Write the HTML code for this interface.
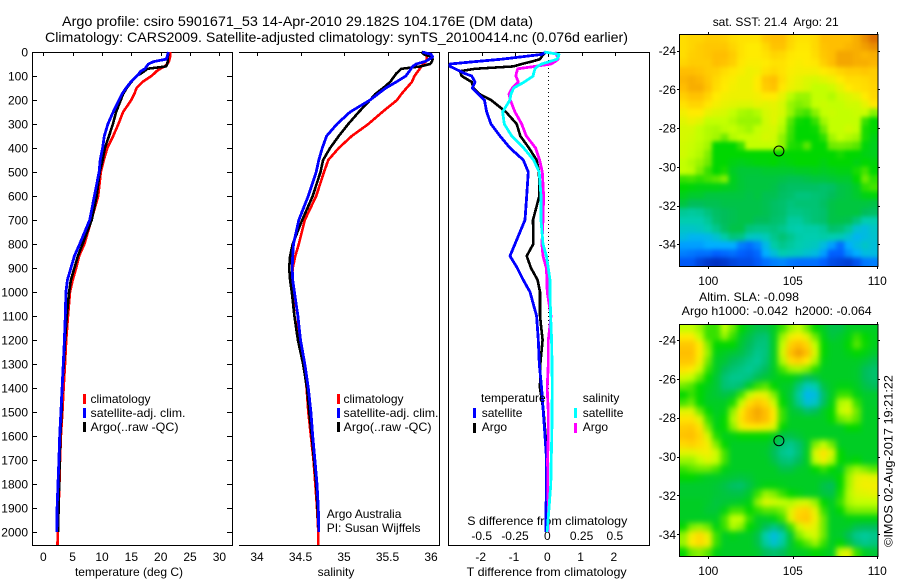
<!DOCTYPE html>
<html lang="en">
<head>
<meta charset="utf-8">
<title>Argo profile chart</title>
<style>
html,body{margin:0;padding:0;background:#fff;}
svg{display:block;}
text{font-family:"Liberation Sans",sans-serif;font-size:12px;fill:#000;}
.title{font-size:14px;}
</style>
</head>
<body>
<svg id="chart" xmlns="http://www.w3.org/2000/svg" width="900" height="580" viewBox="0 0 900 580">
  <defs>
    <filter id="soften-sst" filterUnits="userSpaceOnUse" x="640" y="0" width="260" height="580" color-interpolation-filters="sRGB"><feGaussianBlur stdDeviation="2"/></filter>
    <filter id="soften-sla" filterUnits="userSpaceOnUse" x="640" y="0" width="260" height="580" color-interpolation-filters="sRGB"><feGaussianBlur stdDeviation="3"/></filter>
    <clipPath id="clip-sst-map"><rect x="679" y="34" width="198.5" height="232"/></clipPath>
    <clipPath id="clip-sla-map"><rect x="679" y="324" width="198.5" height="232"/></clipPath>
  </defs>
  <rect x="0" y="0" width="900" height="580" fill="#fff"/>
  <text class="title" x="62" y="26" textLength="471" lengthAdjust="spacingAndGlyphs">Argo profile: csiro 5901671_53 14-Apr-2010 29.182S 104.176E (DM data)</text>
  <text class="title" x="45" y="42" textLength="583" lengthAdjust="spacingAndGlyphs">Climatology: CARS2009. Satellite-adjusted climatology: synTS_20100414.nc (0.076d earlier)</text>

  <text x="129" y="576" text-anchor="middle">temperature (deg C)</text>
  <text x="336" y="576" text-anchor="middle">salinity</text>
  <text x="466.7" y="576" textLength="160" lengthAdjust="spacingAndGlyphs">T difference from climatology</text>
  <text x="467.3" y="525" textLength="160" lengthAdjust="spacingAndGlyphs">S difference from climatology</text>

  <text x="326.7" y="518">Argo Australia</text>
  <text x="326.7" y="532">PI: Susan Wijffels</text>

  <text x="712.7" y="26" textLength="126" lengthAdjust="spacingAndGlyphs">sat. SST: 21.4&#160; Argo: 21</text>
  <text x="699" y="301" textLength="100" lengthAdjust="spacingAndGlyphs">Altim. SLA: -0.098</text>
  <text x="681.7" y="315" textLength="190" lengthAdjust="spacingAndGlyphs">Argo h1000: -0.042&#160; h2000: -0.064</text>
  <text transform="translate(892.5 547) rotate(-90)" textLength="172" lengthAdjust="spacingAndGlyphs">©IMOS 02-Aug-2017 19:21:22</text>

  <g id="layer-maps"></g>
  <g id="layer-profiles"></g>

  <g>
    <rect x="83" y="394" width="3" height="10" fill="#f00"/>
    <text x="90.5" y="403">climatology</text>
    <rect x="83" y="408" width="3" height="10" fill="#00f"/>
    <text x="90.5" y="417" textLength="95" lengthAdjust="spacingAndGlyphs">satellite-adj. clim.</text>
    <rect x="83" y="422" width="3" height="10" fill="#000"/>
    <text x="90.5" y="431" textLength="88" lengthAdjust="spacingAndGlyphs">Argo(..raw -QC)</text>
  </g>
  <g>
    <rect x="337" y="394" width="3" height="10" fill="#f00"/>
    <text x="343.5" y="403">climatology</text>
    <rect x="337" y="408" width="3" height="10" fill="#00f"/>
    <text x="343.5" y="417" textLength="95" lengthAdjust="spacingAndGlyphs">satellite-adj. clim.</text>
    <rect x="337" y="422" width="3" height="10" fill="#000"/>
    <text x="343.5" y="431" textLength="88" lengthAdjust="spacingAndGlyphs">Argo(..raw -QC)</text>
  </g>
  <g>
    <text x="481" y="402">temperature</text>
    <rect x="473" y="408" width="3" height="10" fill="#00f"/>
    <text x="481.7" y="417">satellite</text>
    <rect x="473" y="423" width="3" height="10" fill="#000"/>
    <text x="481.7" y="431">Argo</text>
    <text x="582.7" y="402">salinity</text>
    <rect x="574" y="408" width="3" height="10" fill="#0ff"/>
    <text x="582.7" y="417">satellite</text>
    <rect x="574" y="423" width="3" height="10" fill="#f0f"/>
    <text x="582.7" y="431">Argo</text>
  </g>
</svg>

<script>
/* ---------- profile data ---------- */
const depthLevels = [0,10,20,30,40,50,60,70,80,90,100,125,150,175,200,250,300,350,400,450,500,600,700,800,850,900,950,1000,1100,1200,1300,1400,1500,1600,1700,1800,1900,2000];
const climDepthLevels = [0,10,20,30,40,50,60,70,80,90,100,125,150,175,200,250,300,350,400,450,500,600,700,800,850,900,950,1000,1100,1200,1300,1400,1500,1600,1700,1800,1900,2000,2054];

const tempClimatology = [21.6,21.6,21.6,21.5,21.4,21.1,20.7,19.9,19.3,18.9,18.4,16.9,15.9,15.5,15.0,13.6,12.8,11.9,10.9,10.3,9.8,9.35,8.2,7.0,6.1,5.6,5.0,4.55,4.2,3.9,3.7,3.45,3.25,3.0,2.85,2.75,2.6,2.45,2.42];
const tempArgo = [21.3,21.3,21.2,21.2,21.2,21.1,20.9,17.7,17.2,16.6,15.9,15.0,14.2,13.6,13.2,12.4,11.85,11.2,10.5,10.1,9.6,9.1,8.25,6.7,5.9,5.3,4.7,4.4,4.0,3.7,3.5,3.2,3.1,2.9,2.8,2.7,2.6,2.5];
const tempSatellite = [21.3,21.2,21.1,20.9,18.8,17.9,17.6,17.3,16.6,16.3,15.9,14.9,14.1,13.4,12.9,11.9,11.0,10.4,10.1,9.7,9.5,8.7,7.9,6.2,5.3,4.7,4.1,3.85,3.75,3.6,3.4,3.2,3.0,2.8,2.65,2.5,2.35,2.3];

const salClimatology = [35.93,35.94,35.95,35.95,35.94,35.91,35.89,35.87,35.85,35.83,35.81,35.78,35.72,35.66,35.61,35.44,35.28,35.09,34.94,34.82,34.77,34.68,34.55,34.48,34.44,34.41,34.40,34.41,34.43,34.49,34.54,34.57,34.59,34.62,34.65,34.67,34.69,34.705,34.705];
const salArgo = [35.89,35.92,36.0,36.02,36.01,35.99,35.88,35.66,35.63,35.6,35.58,35.53,35.45,35.36,35.3,35.17,35.05,34.94,34.84,34.76,34.73,34.64,34.52,34.41,34.38,34.37,34.38,34.40,34.43,34.47,34.53,34.575,34.6,34.63,34.655,34.68,34.695,34.71];
const salSatellite = [35.90,36.0,36.02,35.98,35.93,35.83,35.79,35.77,35.75,35.73,35.71,35.6,35.48,35.39,35.3,35.07,34.92,34.8,34.75,34.71,34.68,34.59,34.48,34.42,34.41,34.405,34.41,34.43,34.47,34.5,34.55,34.59,34.62,34.64,34.665,34.69,34.705,34.71];

const tDiffSatellite = [-0.07,-0.2,-0.8,-1.4,-2.2,-2.95,-2.95,-2.8,-2.65,-2.5,-2.3,-2.2,-2.28,-2.1,-1.92,-1.85,-1.72,-1.45,-1.15,-0.75,-0.6,-0.65,-0.7,-1.0,-1.15,-0.93,-0.75,-0.55,-0.35,-0.3,-0.27,-0.2,-0.15,-0.1,-0.05,-0.05,-0.07,-0.07];
const tDiffArgo = [-0.07,-0.15,-0.2,-0.25,-0.5,-0.8,-1.05,-2.2,-2.65,-2.63,-2.6,-2.3,-2.25,-2.07,-1.72,-1.27,-0.95,-0.84,-0.58,-0.35,-0.28,-0.27,-0.46,-0.45,-0.65,-0.52,-0.32,-0.25,-0.25,-0.17,-0.24,-0.25,-0.14,-0.08,-0.05,-0.05,-0.05,-0.05];
const sDiffArgo = [0.05,0.06,0.07,0.075,0.05,0.02,-0.1,-0.23,-0.235,-0.24,-0.243,-0.225,-0.27,-0.295,-0.285,-0.25,-0.2,-0.165,-0.095,-0.065,-0.045,-0.035,-0.04,-0.048,-0.04,-0.015,-0.01,-0.008,0.02,0,0,-0.008,0,0,-0.005,-0.004,0,0];
const sDiffSatellite = [-0.03,0.08,0.075,0.065,0.01,-0.05,-0.08,-0.1,-0.105,-0.11,-0.113,-0.18,-0.26,-0.28,-0.288,-0.343,-0.33,-0.275,-0.185,-0.11,-0.068,-0.055,-0.055,-0.04,-0.014,0,0.013,0.013,0.017,0.025,0.028,0.03,0.028,0.026,0.022,0.019,0.005,-0.008];

/* ---------- tick data ---------- */
const depthTicks = [0,100,200,300,400,500,600,700,800,900,1000,1100,1200,1300,1400,1500,1600,1700,1800,1900,2000];
const tempTicks = [0,5,10,15,20,25,30];
const salTicks = [34,34.5,35,35.5,36];
const tDiffTicks = [-2,-1,0,1,2];
const sDiffTicks = [-0.5,-0.25,0,0.25,0.5];
const lonTicks = [100,105,110];
const latTicks = [-24,-26,-28,-30,-32,-34];

/* ---------- float position ---------- */
const floatLon = 104.176;
const floatLat = -29.182;

/* ---------- map data (rows north to south, colour-scale units 0 to 10) ---------- */
const sstGrid = [
[8.3,8.5,8.5,8.7,8.7,8.6,8.3,8.2,8.2,8.2,8.8,9,9,8.5,8.2,8.2,8.4,9,9,9,9,9.2,9.6,10],
[8.3,8.5,8.7,8.8,8.8,8.8,8.5,8.2,8,8,8.4,8.9,8.9,8.4,8.1,8.1,8.4,8.9,9,9,9.1,9.2,9.4,9.6],
[8.3,8.6,8.7,8.8,9,9,8.7,8.2,8,8,8.2,8.5,8.4,8.1,8,8,8.3,8.8,9,9.3,9.3,9.2,9.1,9.2],
[8.5,8.7,8.7,8.7,9,8.9,8.6,8.1,7.9,7.9,8,8.2,8.2,8,7.9,8,8.1,8.6,9,9.3,9.3,9.2,9.2,9.1],
[9,9,8.9,8.7,8.6,8.3,8.1,7.9,7.7,7.8,8.2,8.4,8.2,7.9,7.8,7.8,7.8,8,8.2,8.5,8.7,8.7,8.8,8.7],
[9.1,9.2,9.1,8.8,8.4,8.1,7.9,7.7,7.7,8,8.8,9,8.3,7.8,7.6,7.4,7.3,7.5,7.7,8,8.3,8.3,8.4,8.6],
[9,9.2,9.2,8.9,8.3,8,7.8,7.7,7.7,8,8.7,8.9,8.1,7.7,7.5,7.3,7,7,7.2,7.6,8,8.2,8.3,8.5],
[8.6,8.9,8.9,8.5,8,7.8,7.7,7.7,7.7,7.8,8,8,7.6,6.9,6.5,6.5,7,7,6.8,7.2,7.4,7.6,8,8.4],
[8.2,8.5,8.5,8.1,7.8,7.6,7.5,7.4,7.4,7.6,7.5,7.6,7.3,6.5,6.2,6.4,7,7.1,7,7,7.2,7.2,7.6,8.1],
[7.8,8,8,7.6,7.4,7.3,7,6.7,6.6,6.8,7.3,7.5,7.3,6.5,5.8,5.6,6.3,7,7.1,7,7,7.1,7.1,6.3],
[7.5,7.7,7.5,7,7,7,6.8,6.5,6.5,6.5,7.2,7.5,7,5.8,5.1,5,5.5,6.6,7,7,7,7,5.5,5],
[7.3,7.3,7,6.8,6.7,6.9,7,6.8,6.6,7,7.2,7.3,6.8,5.6,5,5,5.1,6,7,7,7.2,7,5.2,5],
[7.3,7.2,7,6.8,6.6,6,6.8,7,7,7.1,7.3,7.2,6.4,5.5,5,5,5,5.4,6.6,7,6.8,6.6,5.2,4.8],
[7.2,7.1,6.9,6.6,5,5,5,5.5,7,7,7,7,6.4,5.3,5.2,5.8,5,5,6,6.1,6,5.8,4.9,4.7],
[7.2,7,6.8,6.2,5,5,5,5,5,5,5,5,5,5,5,5,5,5,5,5.2,5,5,4.8,4.7],
[7,6.8,6.5,6,5,5,4.8,4.7,4.8,4.9,4.9,5,4.8,4.9,5,5,5,4.8,5,5,5,4.8,5,4.9],
[7,6.9,6.2,5.5,5,5.2,4.6,4.4,4.4,4.4,4.5,4.5,4.5,4.5,4.6,4.6,4.7,4.6,4.7,4.8,4.8,5.2,5.6,5],
[5.5,5.6,5.4,5.6,5.8,6.2,4.7,4.4,4.3,4.3,4.3,4.3,4.2,4.1,4.1,4.2,4.3,4.3,4.4,4.5,4.5,5,6,5.4],
[5,4.9,4.8,4.8,4.8,4.7,4.6,4.4,4.3,4.3,4.3,4.2,4,3.9,3.9,3.9,3.9,3.8,3.9,4.2,4.3,4.6,5.4,5.6],
[4.7,4.5,4.5,4.3,4.3,4.3,4.3,4.3,4.2,4.3,4.1,4.1,3.9,3.8,3.6,3.6,3.7,3.8,4,4.2,4.3,4.5,4.8,4.9],
[4.3,4,4,4.1,4.1,4.2,4.2,4.2,4.2,4.2,4.1,3.9,3.8,3.6,3.7,3.7,3.7,3.9,4.2,4.3,4.3,4.3,4.3,4.2],
[3.3,3.2,3.3,3.6,3.9,4,4.1,4.2,4.2,4.2,4.1,3.9,3.8,3.5,3.5,3.6,3.7,3.8,4.2,4.3,4.3,4.3,4,3.9],
[3,3,3,3.3,3.8,4,4.1,4.2,4.2,4,4,3.8,3.7,3.2,3.2,3.5,3.7,3.8,4.2,4.2,4.1,3.6,3,3],
[2.7,2.7,2.8,3,3.4,3.9,4.2,4.2,3.6,3.5,3.5,3.6,3.4,3.1,3,3.1,3.1,3.3,3.8,3.7,3.3,2.6,2.4,2.7],
[2.4,2.2,2.2,2.3,2.6,3.1,3.6,3.5,2.8,2.7,2.9,3.4,3.7,3.4,3.1,3,3,3.1,3,2.9,2.6,2.2,2.4,2.6],
[1.8,1.8,1.8,2,2,2,2,1.4,1.2,1.5,2.3,3.1,3.4,3.2,3,2.9,2.8,2.4,1.8,1.2,2,2.4,2.7,2.5],
[1.4,1.3,1.2,1.2,1,1.1,1.2,1,0.9,1.1,2,2.5,3,2.9,2.8,2.6,2.4,1.8,1,1,1.6,2,2.4,2.4],
[0.9,0.9,0.6,0.4,0.3,0.4,0.6,0.7,0.7,0.9,1.2,1.4,1.5,1.3,1.2,1.2,1.2,1,0.7,0.6,0.5,0.8,1.3,1.4]
];
const slaGrid = [
[7,7,6.5,5.5,5.5,7,6,5,4.5,4.2,4.2,4.6,5.5,6.5,7,6,5,4.6,4.2,4.2,4.6,4.6,4.6,4.6],
[8,8,7,5.5,5.5,6.5,5.5,4.6,4.2,3.8,3.7,4.6,6.5,7.7,8,7.5,6,4.8,4.3,4.5,4.8,5.5,5,4.7],
[8.8,8.8,8,6.2,5,5,5,4.4,4,3.6,3.6,4.6,7,8.6,9,8.5,7,5,4.6,4.6,5,5.8,5.1,4.7],
[9,9,8,6.5,4.8,4.6,4.4,4.2,3.8,3.4,3.6,4.6,7.3,9,9.4,9,7.4,5,4.6,4.6,4.8,5,4.8,4.5],
[8.8,8.8,7.8,6,4.6,4.4,4,3.8,3.5,3.3,3.7,4.6,6.8,8.3,8.6,8,6.7,4.8,4.6,4.6,4.6,4.6,4.4,4.1],
[8.2,8,7.2,5.5,4.6,4,3.7,3.5,3.3,3.6,4,4.6,5.6,6.5,6.7,6.2,5.3,4.6,4.6,4.6,4.6,4.5,4,3.8],
[7.3,7,6,5,4.4,3.7,3.4,3.4,3.6,4.1,4.4,4.6,4.8,4.8,4.5,4,4.2,4.6,4.6,4.6,4.6,4.5,4,3.8],
[6,5.7,5,4.7,4.4,3.7,3.6,3.8,4.6,5.5,5.8,5,4.6,4.5,3.6,2.8,3,4.2,4.6,4.8,4.8,4.6,4.2,4],
[5,5.5,5,4.6,4.4,4.2,4.4,5.5,7,7.7,7.5,6.2,4.8,4.3,3.2,2.2,2.4,3.8,4.6,5.5,5.5,4.8,4.5,4.5],
[5.6,6,5,4.6,4.6,4.6,5.2,7,8.3,8.8,8.4,7.2,5,4.4,3.4,2.5,2.7,3.9,4.8,6.8,7,5.5,4.6,4.5],
[7.5,7.5,6,5,4.6,4.8,6.4,8,9,9.3,9,8,5.5,4.5,4.3,3.8,4,4.6,5,7,7.4,6,4.6,4.6],
[8.2,8.2,7.5,5.5,4.7,5,6.8,8.2,9,9.2,9,8,5.5,4.6,4.6,4.6,4.6,4.6,5,6,6.4,5.8,4.6,4.6],
[8.7,8.8,8.2,6.2,4.8,5,6.3,7.7,8,8,7.8,7.4,5,4.6,4.6,4.6,4.6,4.6,4.6,4.6,5,5,4.6,4.6],
[8.9,9,8.5,7.3,5.3,4.7,4.8,5,5,5,5,4.7,4.2,4.2,4.4,4.6,4.6,4.6,4.6,4.6,4.6,4.6,4.6,4.6],
[8.4,8.6,8.3,7.8,6.2,5,4.6,4.6,4.6,4.6,4.6,4.2,3.7,3.4,3.8,4.5,6.2,7,6,4.6,4.6,4.6,4.6,4.6],
[7.5,7.5,7.7,7.8,7.2,5.6,4.6,4.6,4.6,4.6,4.5,4,3.4,3.2,3.7,4.6,7.4,8.2,7.4,5,4.6,4.6,4.6,4.6],
[6.5,6.5,7,7.4,7,5.6,4.6,4.6,4.6,4.6,4.6,4.2,3.7,3.6,4,4.6,7,7.8,6.8,5,4.8,5,4.6,4.6],
[5.5,5.8,6,6,5.6,4.8,4.6,4.6,4.6,4.6,4.6,4.6,4.2,4.2,4.5,4.6,5,5.5,5,4.6,6,6.6,6.2,5.8],
[5,5,4.8,4.6,4.6,4.5,4.4,4.3,4.4,4.6,4.6,4.6,4.6,4.6,4.6,4.6,4.6,4.6,4.6,5,6.5,7.5,7.7,7.5],
[4.5,4.5,4.5,4.5,4.4,4.2,3.9,3.8,4.2,4.6,4.8,4.8,4.7,4.6,4.6,4.6,4.6,4.2,4,5,6.6,7.6,7.8,7.8],
[4.5,4.5,4.5,4.5,4.4,4.3,4.2,4.2,4.5,5.5,6.5,6.2,5.5,5,4.8,4.6,4.6,4.3,4.2,5.2,6.8,7.4,7.5,7.6],
[4.6,4.6,4.6,4.5,4.3,4.4,4.5,4.6,4.8,6.4,7.4,7.2,7,6.8,7.2,7.3,6.5,5,4.6,5.5,6.7,7,7,7],
[4.6,4.6,4.6,4.4,4.4,4.8,5.6,5.6,5,5.4,5.8,5.8,6.2,7.5,8.4,8.6,7.6,5.5,4.6,5,6,6.2,6.2,6.2],
[4.6,4.6,4.6,4.6,4.6,5.6,7,7,5.5,4.6,4.6,4.8,5.5,7.5,8.6,8.8,7.8,6,4.6,4.6,4.8,4.8,4.8,4.8],
[5,6.2,6.5,6,4.8,5.5,6.8,6.3,5,4.6,4,3.5,4,5.5,7.2,7.8,7.5,6,4.6,4.6,4.5,4.1,4,4],
[6.4,7.8,8.4,7.6,5.5,4.6,4.8,4.6,4.6,4.2,3,2.4,3,4.4,6.2,7,7.3,6,4.6,4.5,4,3.4,3.2,3.4],
[6.5,8,8.4,7.8,5.5,4.6,4.6,4.6,4.6,4.2,3.2,2.6,3.2,4.4,5.2,5.8,6.5,5.5,4.6,5,4.4,3.7,3.4,3.6],
[5,6,6.3,5.8,4.8,4.6,4.6,4.6,4.6,4.5,4,3.8,4,4.5,4.6,4.7,5,4.8,4.6,7.2,7.6,5.5,4.6,4.4]
];

/* ---------- axis functions ---------- */
const panelTop = 52, panelBottom = 545;
const yDepth = d => 52 + 0.24 * d;
const xTemp = v => 43.3 + 5.87 * v;
const xSal = v => 257 + 87 * (v - 34);
const xTDiff = v => 548.3 + 33.3 * v;
const xSDiff = v => 548.3 + 133.2 * v;
const xLon = lon => 708.3 + 16.9 * (lon - 100);
const mapLeft = 679, mapRight = 877.3;
const lonWest = 98.27, lonEast = 110;

const NS = 'http://www.w3.org/2000/svg';
const profilesLayer = document.getElementById('layer-profiles');
const mapsLayer = document.getElementById('layer-maps');

function make(tag, attrs, parent) {
  const node = document.createElementNS(NS, tag);
  for (const key in attrs) node.setAttribute(key, attrs[key]);
  parent.appendChild(node);
  return node;
}

function drawSeries(parent, name, xFn, values, depths, colour, width) {
  const pts = values.map((v, i) => xFn(v).toFixed(1) + ',' + yDepth(depths[i]).toFixed(1)).join(' ');
  const line = make('polyline', {points: pts, fill: 'none', stroke: colour, 'stroke-width': width, 'stroke-linejoin': 'round', 'shape-rendering': 'crispEdges'}, parent);
  
  
}

function axisLine(parent, name, x1, y1, x2, y2) {
  const seg = make('line', {x1: x1, y1: y1, x2: x2, y2: y2, stroke: '#000', 'stroke-width': 1, 'shape-rendering': 'crispEdges'}, parent);
  
  
}

function label(parent, name, x, y, str, anchor) {
  const t = make('text', {x: x, y: y, 'text-anchor': anchor}, parent);
  t.textContent = str;
  
  
}

/* ---------- temperature panel ---------- */
const tempPanel = make('g', {}, profilesLayer);


axisLine(tempPanel, 'temperature-panel-top-axis', 32, 52.5, 233, 52.5);
axisLine(tempPanel, 'temperature-panel-bottom-axis', 32, 545.5, 233, 545.5);
axisLine(tempPanel, 'temperature-panel-left-axis', 32.5, 52, 32.5, 546);
axisLine(tempPanel, 'temperature-panel-right-axis', 232.5, 52, 232.5, 546);
depthTicks.forEach(d => {
  const y = Math.round(yDepth(d)) + 0.5;
  axisLine(tempPanel, 'depth-tick-left', 32.5, y, 37, y);
  axisLine(tempPanel, 'depth-tick-right', 227, y, 232.5, y);
  label(tempPanel, 'depth-tick-label', 28, yDepth(d) + 4.5, String(d), 'end');
});
tempTicks.forEach(v => {
  const x = Math.round(xTemp(v)) + 0.5;
  axisLine(tempPanel, 'temperature-tick', x, 52.5, x, 56);
  label(tempPanel, 'temperature-tick-label', xTemp(v), 561, String(v), 'middle');
});
drawSeries(tempPanel, 'temperature-climatology-line', xTemp, tempClimatology, climDepthLevels, '#ff0000', 2.6);
drawSeries(tempPanel, 'temperature-argo-line', xTemp, tempArgo, depthLevels, '#000000', 2.6);
drawSeries(tempPanel, 'temperature-satellite-line', xTemp, tempSatellite, depthLevels, '#0000ff', 2.8);

/* ---------- salinity panel ---------- */
const salPanel = make('g', {}, profilesLayer);


axisLine(salPanel, 'salinity-panel-top-axis', 239, 52.5, 440, 52.5);
axisLine(salPanel, 'salinity-panel-bottom-axis', 239, 545.5, 440, 545.5);
axisLine(salPanel, 'salinity-panel-right-axis', 439.5, 52, 439.5, 546);
salTicks.forEach(v => {
  const x = Math.round(xSal(v)) + 0.5;
  axisLine(salPanel, 'salinity-tick', x, 52.5, x, 56);
  label(salPanel, 'salinity-tick-label', xSal(v), 561, String(v), 'middle');
});
drawSeries(salPanel, 'salinity-climatology-line', xSal, salClimatology, climDepthLevels, '#ff0000', 2.6);
drawSeries(salPanel, 'salinity-argo-line', xSal, salArgo, depthLevels, '#000000', 2.6);
drawSeries(salPanel, 'salinity-satellite-line', xSal, salSatellite, depthLevels, '#0000ff', 2.8);

/* ---------- difference panel ---------- */
const diffPanel = make('g', {}, profilesLayer);


axisLine(diffPanel, 'difference-panel-top-axis', 448, 52.5, 650, 52.5);
axisLine(diffPanel, 'difference-panel-bottom-axis', 448, 545.5, 650, 545.5);
axisLine(diffPanel, 'difference-panel-left-axis', 448.5, 52, 448.5, 546);
axisLine(diffPanel, 'difference-panel-right-axis', 649.5, 52, 649.5, 546);
const zeroLine = make('line', {x1: xTDiff(0), y1: 52, x2: xTDiff(0), y2: yDepth(2000), stroke: '#000', 'stroke-width': 1, 'stroke-dasharray': '1 3', 'shape-rendering': 'crispEdges'}, diffPanel);


tDiffTicks.forEach(v => {
  const x = Math.round(xTDiff(v)) + 0.5;
  axisLine(diffPanel, 't-difference-tick', x, 52.5, x, 56);
  label(diffPanel, 't-difference-tick-label', xTDiff(v) - 1, 561, String(v), 'middle');
});
sDiffTicks.forEach(v => {
  label(diffPanel, 's-difference-tick-label', xSDiff(v) - (v === 0 ? 1 : 0), 540, String(v), 'middle');
});
drawSeries(diffPanel, 't-difference-argo-line', xTDiff, tDiffArgo, depthLevels, '#000000', 2.6);
drawSeries(diffPanel, 't-difference-satellite-line', xTDiff, tDiffSatellite, depthLevels, '#0000ff', 2.8);
drawSeries(diffPanel, 's-difference-argo-line', xSDiff, sDiffArgo, depthLevels, '#ff00ff', 2.8);
drawSeries(diffPanel, 's-difference-satellite-line', xSDiff, sDiffSatellite, depthLevels, '#00ffff', 2.8);

/* ---------- maps ---------- */
const colourStops = [
  [0, 0, 30, 170], [1, 0, 95, 255], [2, 0, 175, 255], [3, 0, 205, 175], [4, 0, 190, 90],
  [5, 0, 215, 0], [6, 110, 235, 0], [7, 195, 255, 0], [8, 255, 235, 0], [9, 255, 190, 0], [10, 220, 110, 0]
];
function colourFor(v) {
  const c = Math.max(0, Math.min(10, v));
  const lo = Math.min(9, Math.floor(c));
  const a = colourStops[lo], b = colourStops[lo + 1], t = c - lo;
  return 'rgb(' + [1, 2, 3].map(i => Math.round(a[i] + (b[i] - a[i]) * t)).join(',') + ')';
}

function drawMap(name, grid, yTop, yBottom, yLat, bottomLabelY, clipId, filterId) {
  const group = make('g', {}, mapsLayer);
  
  
  const clipGroup = make('g', {'clip-path': 'url(#' + clipId + ')'}, group);
  
  
  const cellGroup = make('g', {filter: 'url(#' + filterId + ')'}, clipGroup);
  
  
  const rows = grid.length;
  const cols = grid[0].length;
  const dLon = (lonEast - lonWest) / cols;
  const cellH = (yBottom - yTop) / rows;
  const pad = 14;
  grid.forEach((rowValues, r) => {
    rowValues.forEach((v, c) => {
      const x0 = xLon(lonWest + c * dLon) - (c === 0 ? pad : 0);
      const x1 = xLon(lonWest + (c + 1) * dLon) + (c === cols - 1 ? pad : 0);
      const y0 = yTop + r * cellH - (r === 0 ? pad : 0);
      const y1 = yTop + (r + 1) * cellH + (r === rows - 1 ? pad : 0);
      const cell = make('rect', {x: x0.toFixed(2), y: y0.toFixed(2), width: (x1 - x0 + 0.6).toFixed(2), height: (y1 - y0 + 0.6).toFixed(2), fill: colourFor(v), 'shape-rendering': 'crispEdges'}, cellGroup);
      
      
    });
  });
  const frame = make('rect', {x: mapLeft + 0.5, y: yTop + 0.5, width: mapRight - mapLeft, height: yBottom - yTop, fill: 'none', stroke: '#000', 'stroke-width': 1, 'shape-rendering': 'crispEdges'}, group);
  
  
  lonTicks.forEach(lon => {
    const x = Math.round(xLon(lon)) + 0.5;
    axisLine(group, 'longitude-tick-top', x, yTop - 2, x, yTop);
    axisLine(group, 'longitude-tick-bottom', x, yBottom, x, yBottom + 3);
    label(group, 'longitude-tick-label', xLon(lon), bottomLabelY, String(lon), 'middle');
  });
  latTicks.forEach(lat => {
    const y = Math.round(yLat(lat)) + 0.5;
    axisLine(group, 'latitude-tick-left', mapLeft - 2, y, mapLeft, y);
    axisLine(group, 'latitude-tick-right', mapRight, y, mapRight + 2.5, y);
    label(group, 'latitude-tick-label', 676, yLat(lat) + 4.5, String(lat), 'end');
  });
  const marker = make('circle', {cx: xLon(floatLon).toFixed(1), cy: yLat(floatLat).toFixed(1), r: 5, fill: 'none', stroke: '#000', 'stroke-width': 1}, group);
  
  
}

drawMap('sst-map', sstGrid, 34, 266, lat => 50.7 + 19.35 * (-24 - lat), 285, 'clip-sst-map', 'soften-sst');
drawMap('sla-map', slaGrid, 324, 556, lat => 340 + 19.43 * (-24 - lat), 575, 'clip-sla-map', 'soften-sla');
</script>
</body>
</html>
